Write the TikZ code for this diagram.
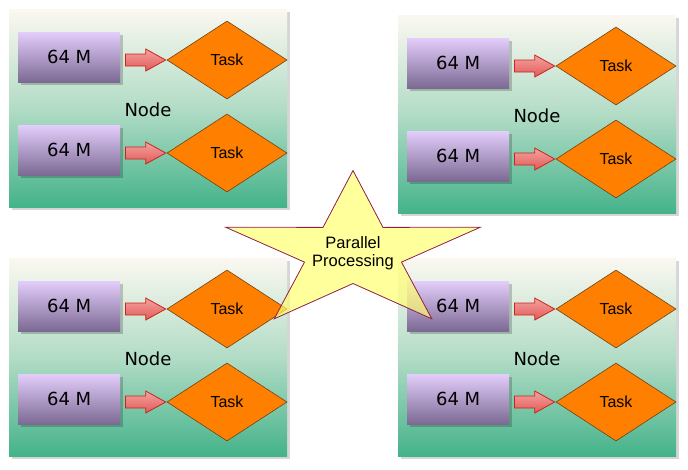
\documentclass[tikz,border=0pt]{standalone}
\usepackage{fontspec}
\newfontfamily\dejavu{DejaVu Sans}
\newfontfamily\arial{Liberation Sans}
\usetikzlibrary{shapes.geometric,calc,shadows}
\definecolor{panelTop}{HTML}{FBF8F1}
\definecolor{panelMid}{HTML}{B2DCC6}
\definecolor{panelBot}{HTML}{44B38A}
\definecolor{memTop}{HTML}{E3CDFB}
\definecolor{memBot}{HTML}{7C6A93}
\definecolor{arrTop}{HTML}{F5A3A0}
\definecolor{arrBot}{HTML}{E05A58}
\definecolor{arrLine}{HTML}{C8261C}
\definecolor{taskFill}{HTML}{FF8000}
\definecolor{taskLine}{HTML}{6E4216}
\definecolor{starFill}{HTML}{FFFF6E}
\definecolor{starLine}{HTML}{8E1F45}
\newcommand\nodepanel[3]{%
  \node[panelbox, anchor=north west] (#1) at (#2,#3) {};
  \node[membox, anchor=north west] (#1m1) at ($(#1.north west)+(9,23)$) {\raisebox{-2pt}{64 M}};
  \node[membox, anchor=north west] (#1m2) at ($(#1.north west)+(9,116)$) {\raisebox{-2pt}{64 M}};
  \node[taskbox] (#1t1) at ($(#1.north west)+(218,51)$) {Task};
  \node[taskbox] (#1t2) at ($(#1.north west)+(218,144)$) {Task};
  \node[panellabel] (#1lab) at ($(#1.north west)+(139,100.5)$) {Node};
  \path[blockarrow] let \p1=(#1m1.east), \p2=(#1t1.west) in
    (\x1+5pt,\y2+6pt) -- (\x2-21pt,\y2+6pt) -- (\x2-21pt,\y2+11pt) -- (\x2-1pt,\y2)
    -- (\x2-21pt,\y2-11pt) -- (\x2-21pt,\y2-6pt) -- (\x1+5pt,\y2-6pt) -- cycle;
  \path[blockarrow] let \p1=(#1m2.east), \p2=(#1t2.west) in
    (\x1+5pt,\y2+6pt) -- (\x2-21pt,\y2+6pt) -- (\x2-21pt,\y2+11pt) -- (\x2-1pt,\y2)
    -- (\x2-21pt,\y2-11pt) -- (\x2-21pt,\y2-6pt) -- (\x1+5pt,\y2-6pt) -- cycle;
}
\begin{document}
\begin{tikzpicture}[x=1pt,y=-1pt,
  panelbox/.style={rectangle, inner sep=0pt, minimum width=278pt, minimum height=198pt,
    top color=panelTop, bottom color=panelBot, middle color=panelMid,
    drop shadow={shadow xshift=3pt, shadow yshift=-3pt, fill=black!16, opacity=1}},
  membox/.style={rectangle, inner sep=0pt, minimum width=102pt, minimum height=50pt,
    top color=memTop, bottom color=memBot,
    drop shadow={shadow xshift=3pt, shadow yshift=-3pt, fill=black, opacity=0.2},
    font=\dejavu\fontsize{18}{21}\selectfont, text=black},
  taskbox/.style={diamond, inner sep=0pt, minimum width=120pt, minimum height=78pt,
    aspect=1.54, fill=taskFill, draw=taskLine, line width=0.6pt,
    font=\arial\fontsize{16}{19}\selectfont, text=black},
  panellabel/.style={inner sep=0pt, font=\dejavu\fontsize{18}{21}\selectfont, text=black},
  blockarrow/.style={draw=arrLine, line width=0.8pt, top color=arrTop, bottom color=arrBot},
  starshape/.style={draw=starLine, line width=0.8pt, fill=starFill, fill opacity=0.68},
  startext/.style={inner sep=0pt, align=center, font=\arial\fontsize{16.5}{18}\selectfont, text=black}
]
\useasboundingbox (0,0) rectangle (688,469);
\fill[white] (0,0) rectangle (688,469);
\nodepanel{pa}{9}{9}
\nodepanel{pb}{398}{15}
\nodepanel{pc}{9}{258}
\nodepanel{pd}{398}{258}
\path[starshape] (353,170.5) -- (323,227.4) -- (225.6,227.2) -- (304.5,262.1)
  -- (274.2,318.8) -- (353,283.5) -- (431.8,318.8) -- (401.5,262.1)
  -- (480.4,227.2) -- (383,227.4) -- cycle;
\node[startext] (star) at (353,253.5) {Parallel\\Processing};
\end{tikzpicture}
\end{document}
